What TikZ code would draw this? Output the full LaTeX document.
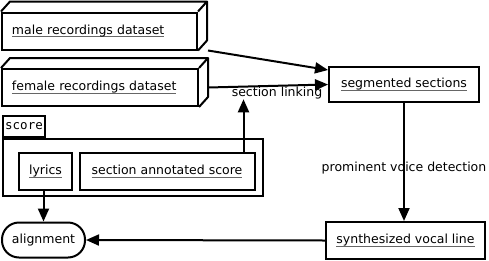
\documentclass[tikz,border=0pt]{standalone}
\usepackage{fontspec}
\setmainfont{DejaVu Sans}
\setmonofont{DejaVu Sans Mono}
\usepackage{tikz}
\usetikzlibrary{arrows.meta, positioning}

% underlined element names
\newcommand{\elname}[1]{\setbox0\hbox{#1}\rlap{\color{black!60}\rule[-2.8pt]{\wd0}{1pt}}\box0}

\begin{document}
\begin{tikzpicture}[
    x=1pt, y=-1pt,
    every node/.style={font=\fontsize{12.5}{15}\selectfont, inner sep=0pt},
    box/.style={draw, line width=2pt, minimum height=37pt},
    artifact/.style={box, align=left},
    usecase/.style={draw, line width=2pt, rounded corners=17pt, minimum height=35pt},
    flow/.style={line width=2pt, -{Triangle[length=13pt, width=11pt]}}
]
\useasboundingbox (0,0) rectangle (489,260);

% datasets
\node[artifact, text width=175pt, minimum width=195pt] (male) at (99.5,31) {\elname{male recordings dataset}};
\node[artifact, text width=176pt, minimum width=196pt] (female) at (100,87.5) {\elname{female recordings dataset}};
\foreach \n in {male,female}
    \draw[line width=2pt, line join=round]
        (\n.north west) -- ++(9,-10) -- ([shift={(9,-10)}]\n.north east)
        -- ([shift={(9,-10)}]\n.south east) -- (\n.south east)
        (\n.north east) -- ++(9,-10);

% score package
\node[draw, line width=2pt, minimum width=260pt, minimum height=57pt] (score) at (133,167.5) {};
\node[draw, line width=2pt, minimum width=42pt, minimum height=21pt, anchor=south west,
      font=\fontsize{12.5}{15}\ttfamily] (scoretab) at (score.north west) {score};
\node[box, minimum width=53pt] (lyrics) at (45.5,171.5) {\elname{lyrics}};
\node[box, minimum width=175pt] (annotated) at (167,171.5) {\elname{section annotated score}};

\node[box, minimum width=150pt, minimum height=35pt] (segmented) at (404,84.5) {\elname{segmented sections}};
\node[box, minimum width=159pt] (synth) at (405.5,240.5) {\elname{synthesized vocal line}};
\node[usecase, minimum width=83pt] (alignment) at (43.5,240) {alignment};

\node (linking) at (277,93) {section linking};

% connectors
\draw[flow] ([xshift=10pt]male.south east) -- ([yshift=-4pt]segmented.north west);
\draw[flow] ([xshift=9pt]female.east) -- (segmented.west);
\draw[flow] ([xshift=-12pt]annotated.north east) -- ([xshift=-12pt]annotated.north east |- linking.south);
\draw[flow] (segmented.south) -- node[pos=0.55] {prominent voice detection} (segmented.south |- synth.north);
\draw[flow] (synth.west) -- (alignment.east);
\draw[flow] ([xshift=-2pt]lyrics.south) -- ([xshift=-2pt]lyrics.south |- alignment.north);

\end{tikzpicture}
\end{document}
